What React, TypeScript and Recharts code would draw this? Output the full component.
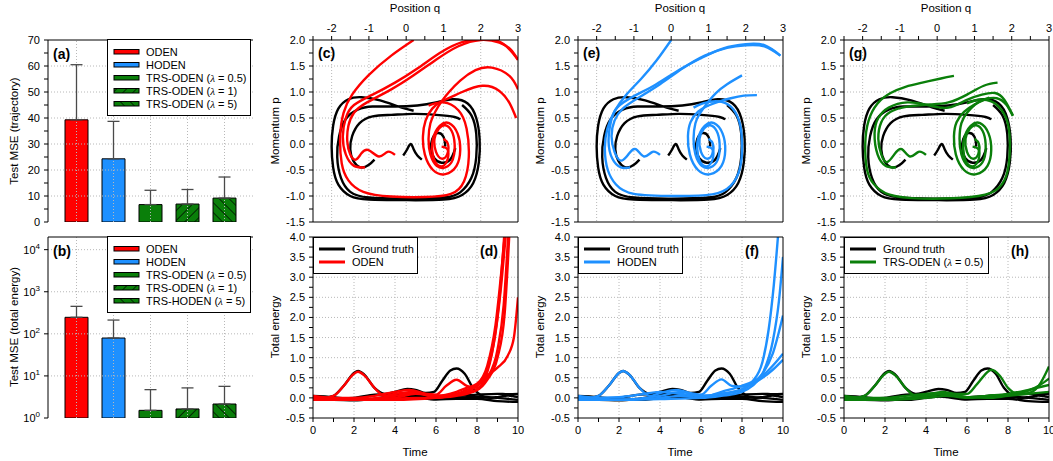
import React from "react";
import {
  Bar,
  BarChart,
  Cell,
  ErrorBar,
  Line,
  LineChart,
  ReferenceLine,
  XAxis,
  YAxis,
} from "recharts";

const FONT = "'Liberation Sans', Arial, sans-serif";
const RED = "#ff0000";
const BLUE = "#1e90ff";
const GREEN = "#0a7f0a";
const GT = "#000000";
const GRID = "#b8b8b8";

type Pt = [number, number];

// ---- bar panels (a) / (b)
const methodsA = ["ODEN", "HODEN", "TRS-ODEN (λ = 0.5)", "TRS-ODEN (λ = 1)", "TRS-ODEN (λ = 5)"];
const methodsB = ["ODEN", "HODEN", "TRS-ODEN (λ = 0.5)", "TRS-ODEN (λ = 1)", "TRS-HODEN (λ = 5)"];
const trajMSE = [39.3, 24.3, 6.7, 6.9, 9.2];
const trajErr = [21.2, 14.4, 5.5, 5.6, 8.1];
const energyMSE = [247, 79.5, 1.52, 1.64, 2.15];
const energyErr = [203, 133, 3.2, 3.55, 3.5];
const barFills = [RED, BLUE, GREEN, "url(#hatchFwd)", "url(#hatchBack)"];

const trajTicks = [0, 5, 10, 15, 20, 25, 30, 35, 40, 45, 50, 55, 60, 65, 70];
const trajMajor = [0, 10, 20, 30, 40, 50, 60, 70];
const logTicks = [1, 10, 100, 1000, 10000];

// ---- axes of phase / energy panels
const qTicks = [-2.5, -2, -1.5, -1, -0.5, 0, 0.5, 1, 1.5, 2, 2.5, 3];
const qMajor = [-2, -1, 0, 1, 2, 3];
const pTicks = [-1.5, -1.25, -1, -0.75, -0.5, -0.25, 0, 0.25, 0.5, 0.75, 1, 1.25, 1.5, 1.75, 2];
const pMajor = [-1.5, -1, -0.5, 0, 0.5, 1, 1.5, 2];
const tTicks = [0, 1, 2, 3, 4, 5, 6, 7, 8, 9, 10];
const tMajor = [0, 2, 4, 6, 8, 10];
const eTicks = [-0.5, -0.25, 0, 0.25, 0.5, 0.75, 1, 1.25, 1.5, 1.75, 2, 2.25, 2.5, 2.75, 3, 3.25, 3.5, 3.75, 4];
const eMajor = [-0.5, 0, 0.5, 1, 1.5, 2, 2.5, 3, 3.5, 4];

// ---- ground truth phase trajectories (q, p)
const gtPhase1: Pt[] = [[0.2,0.64],[-0.2,0.72],[-0.7,0.84],[-1.2,0.9],[-1.55,0.86],[-1.82,0.68],[-1.96,0.35],[-2.0,-0.05],[-1.96,-0.45],[-1.82,-0.78],[-1.5,-1.0],[-1.0,-1.07],[0,-1.08],[1.0,-1.07],[1.5,-0.98],[1.8,-0.75],[1.95,-0.35],[1.97,0.1],[1.88,0.5],[1.65,0.78],[1.25,0.86],[0.8,0.8],[0.3,0.74],[-0.3,0.72],[-0.9,0.72],[-1.3,0.66],[-1.62,0.48],[-1.8,0.15],[-1.85,-0.25],[-1.75,-0.65],[-1.5,-0.92],[-1.0,-1.03],[0,-1.05],[1.0,-1.03],[1.45,-0.93],[1.75,-0.65],[1.88,-0.25],[1.88,0.2],[1.75,0.55],[1.5,0.75]];
const gtPhase2: Pt[] = [[1.45,0.47],[1.3,0.52],[0.8,0.56],[0.2,0.58],[-0.4,0.56],[-0.9,0.53],[-1.25,0.4],[-1.45,0.15],[-1.5,-0.1],[-1.42,-0.32],[-1.22,-0.45],[-1.0,-0.4],[-0.85,-0.3]];
const gtPhase3: Pt[] = [[1.05,-0.05],[1.0,0.14],[0.84,0.21],[0.7,0.1],[0.67,-0.1],[0.76,-0.28],[0.95,-0.36],[1.18,-0.3],[1.32,-0.08]];
const gtPhase4: Pt[] = [[-0.08,-0.22],[0.02,-0.11],[0.12,0.0],[0.2,-0.1],[0.3,-0.22],[0.42,-0.3]];

// ---- ODEN phase (c)
const odenPhase1: Pt[] = [[0.2,2.0],[-0.4,1.7],[-1.0,1.33],[-1.45,0.95],[-1.68,0.6],[-1.77,0.15],[-1.73,-0.37],[-1.55,-0.7],[-1.15,-0.92],[-0.4,-1.01],[0.5,-1.02],[1.2,-0.96],[1.55,-0.72],[1.68,-0.25],[1.62,0.3],[1.4,0.65],[1.0,0.8],[0.6,0.74]];
const odenPhase2: Pt[] = [[-0.3,-0.21],[-0.5,-0.15],[-0.73,-0.24],[-1.0,-0.12],[-1.2,-0.18],[-1.35,-0.3],[-1.5,-0.2],[-1.58,0.05],[-1.55,0.35],[-1.4,0.6],[-1.05,0.8],[-0.4,1.05],[0.2,1.32],[0.8,1.62],[1.4,1.88],[2.0,2.0],[2.5,1.95],[2.8,1.82],[3.0,1.62]];
const odenPhase3: Pt[] = [[-1.1,-0.45],[-1.4,-0.42],[-1.62,-0.2],[-1.7,0.15],[-1.62,0.5],[-1.4,0.75],[-0.9,0.95],[-0.3,1.18],[0.3,1.45],[0.9,1.75],[1.5,1.96],[2.1,2.02],[2.6,1.93],[3.0,1.62]];
const odenPhase4: Pt[] = [[1.0,0.1],[1.12,0.0],[1.1,-0.2],[0.95,-0.28],[0.8,-0.15],[0.76,0.1],[0.88,0.3],[1.05,0.36],[1.22,0.25],[1.3,0.0],[1.25,-0.3],[1.05,-0.45],[0.82,-0.42],[0.65,-0.2],[0.6,0.1],[0.65,0.4],[0.78,0.62],[0.95,0.82],[1.15,1.0],[1.45,1.22],[1.86,1.42],[2.3,1.47],[2.77,1.31],[3.0,1.05]];
const odenPhase5: Pt[] = [[0.95,-0.05],[1.12,-0.12],[1.08,-0.35],[0.88,-0.42],[0.72,-0.22],[0.72,0.1],[0.9,0.35],[1.15,0.4],[1.38,0.2],[1.45,-0.12],[1.35,-0.42],[1.05,-0.58],[0.72,-0.5],[0.5,-0.2],[0.45,0.15],[0.52,0.45],[0.7,0.68],[0.95,0.82],[1.2,0.9],[1.5,1.0],[2.05,1.12],[2.5,1.02],[2.77,0.79],[2.95,0.5]];

// ---- HODEN phase (e)
const hodenPhase1: Pt[] = [[0.0,2.0],[-0.4,1.6],[-0.81,1.25],[-1.2,0.95],[-1.5,0.65],[-1.71,0.3],[-1.78,-0.1],[-1.7,-0.5],[-1.48,-0.78],[-1.0,-0.96],[0.1,-1.0],[1.1,-0.97],[1.6,-0.8],[1.85,-0.45],[1.9,0.05],[1.82,0.45],[1.6,0.72],[1.25,0.82],[0.85,0.78],[0.6,0.7]];
const hodenPhase2: Pt[] = [[-0.3,-0.21],[-0.5,-0.15],[-0.73,-0.24],[-0.95,-0.1],[-1.15,-0.2],[-1.35,-0.32],[-1.52,-0.15],[-1.6,0.15],[-1.52,0.45],[-1.3,0.68],[-0.9,0.88],[-0.3,1.15],[0.3,1.45],[0.9,1.7],[1.5,1.85],[2.0,1.9],[2.5,1.88],[2.93,1.7]];
const hodenPhase3: Pt[] = [[-1.1,-0.45],[-1.35,-0.45],[-1.58,-0.28],[-1.68,0.05],[-1.62,0.42],[-1.45,0.7],[-1.0,0.92],[-0.4,1.15],[0.2,1.42],[0.8,1.65],[1.4,1.84],[2.0,1.92],[2.5,1.9],[2.93,1.7]];
const hodenPhase4: Pt[] = [[1.0,0.1],[1.12,0.0],[1.1,-0.2],[0.95,-0.28],[0.8,-0.15],[0.76,0.1],[0.88,0.3],[1.05,0.36],[1.22,0.25],[1.3,0.0],[1.25,-0.3],[1.05,-0.45],[0.82,-0.42],[0.65,-0.2],[0.6,0.1],[0.65,0.4],[0.78,0.6],[0.98,0.8],[1.2,0.98],[1.5,1.15],[1.9,1.32]];
const hodenPhase5: Pt[] = [[0.95,-0.05],[1.12,-0.12],[1.08,-0.35],[0.88,-0.42],[0.72,-0.22],[0.72,0.1],[0.9,0.35],[1.15,0.4],[1.38,0.2],[1.45,-0.12],[1.35,-0.42],[1.05,-0.58],[0.72,-0.5],[0.5,-0.2],[0.45,0.15],[0.52,0.42],[0.72,0.62],[1.0,0.74],[1.3,0.82],[1.6,0.88],[1.95,0.93],[2.3,0.94]];

// ---- TRS-ODEN phase (g)
const trsPhase1: Pt[] = [[0.45,1.31],[0.1,1.26],[-0.4,1.18],[-0.85,1.1],[-1.25,0.98],[-1.6,0.78],[-1.84,0.45],[-1.93,0.0],[-1.88,-0.5],[-1.7,-0.77],[-1.3,-0.97],[-0.4,-1.05],[0.9,-1.02],[1.55,-0.9],[1.85,-0.62],[1.95,-0.1],[1.9,0.38],[1.72,0.66],[1.45,0.82],[1.1,0.85],[0.8,0.78]];
const trsPhase2: Pt[] = [[-0.3,-0.21],[-0.5,-0.15],[-0.73,-0.24],[-0.95,-0.1],[-1.15,-0.2],[-1.35,-0.35],[-1.5,-0.2],[-1.58,0.1],[-1.5,0.42],[-1.25,0.62],[-0.8,0.72],[-0.2,0.76],[0.3,0.8],[0.8,0.95],[1.25,1.12],[1.62,1.18]];
const trsPhase3: Pt[] = [[-1.1,-0.45],[-1.38,-0.42],[-1.6,-0.2],[-1.68,0.2],[-1.58,0.5],[-1.3,0.7],[-0.8,0.8],[-0.2,0.74],[0.3,0.7],[0.8,0.85],[1.2,0.95],[1.55,0.98],[1.8,0.85],[2.03,0.55]];
const trsPhase4: Pt[] = [[1.0,0.1],[1.12,0.0],[1.1,-0.2],[0.95,-0.28],[0.8,-0.15],[0.76,0.1],[0.88,0.3],[1.05,0.36],[1.22,0.25],[1.3,0.0],[1.25,-0.3],[1.05,-0.45],[0.82,-0.42],[0.65,-0.2],[0.6,0.1],[0.65,0.4],[0.8,0.6],[1.0,0.75],[1.2,0.84],[1.4,0.89]];
const trsPhase5: Pt[] = [[0.95,-0.05],[1.12,-0.12],[1.08,-0.35],[0.88,-0.42],[0.72,-0.22],[0.72,0.1],[0.9,0.35],[1.15,0.4],[1.38,0.2],[1.45,-0.12],[1.35,-0.42],[1.05,-0.58],[0.72,-0.5],[0.5,-0.2],[0.45,0.15],[0.52,0.42],[0.72,0.62],[1.0,0.76],[1.3,0.86],[1.6,0.88],[1.85,0.76],[2.03,0.54]];

// ---- total energy (time, E)
const gtEnergy1: Pt[] = [[0,0.0],[0.5,0.0],[1,0.05],[1.5,0.3],[2,0.62],[2.2,0.67],[2.5,0.58],[3,0.25],[3.5,0.1],[4,0.15],[4.6,0.22],[5,0.2],[5.5,0.12],[5.9,0.15],[6.3,0.42],[6.7,0.68],[7.0,0.73],[7.4,0.6],[7.8,0.25],[8.2,0.06],[8.6,0.0],[9,0.02],[9.5,0.06],[10,0.02]];
const gtEnergy2: Pt[] = [[0,0.05],[1,0.02],[2,-0.04],[3,-0.05],[4,0.0],[5,0.05],[6,0.02],[7,0.05],[8,0.08],[9,0.1],[9.5,0.09],[10,0.1]];
const gtEnergy3: Pt[] = [[0,-0.05],[1,-0.05],[2,-0.06],[3,-0.02],[4,0.05],[5,0.02],[6,-0.04],[7,-0.02],[8,-0.02],[9,-0.08],[10,-0.1]];
const gtEnergy4: Pt[] = [[0,0.02],[1,-0.02],[2,0.0],[3,0.08],[4,0.1],[5,0.05],[6,0.0],[7,0.0],[8,0.03],[9,0.0],[10,-0.05]];

const odenEnergy1: Pt[] = [[0,0.0],[0.5,0.0],[1,0.05],[1.5,0.3],[2,0.6],[2.2,0.65],[2.5,0.56],[3,0.25],[3.5,0.05],[4,0.1],[4.8,0.15],[5.5,0.1],[6,0.08],[6.5,0.3],[7,0.45],[7.5,0.3],[8,0.25],[8.4,0.5],[8.8,1.3],[9.1,2.5],[9.35,4.2]];
const odenEnergy2: Pt[] = [[0,0.05],[2,-0.04],[4,0.05],[5,0.12],[6,0.02],[7,0.1],[7.5,0.2],[8,0.3],[8.5,0.7],[8.9,1.6],[9.2,2.9],[9.45,4.3]];
const odenEnergy3: Pt[] = [[0,-0.05],[2,-0.05],[4,0.0],[5,0.1],[6,0.05],[7,0.15],[7.5,0.25],[8,0.35],[8.5,0.8],[8.9,1.8],[9.2,3.2],[9.4,4.3]];
const odenEnergy4: Pt[] = [[0,0.0],[2,0.0],[3,0.05],[4,0.15],[4.7,0.2],[5.5,0.1],[6.5,0.05],[7.5,0.15],[8,0.3],[8.5,0.55],[9,0.75],[9.5,1.05],[9.8,1.5],[10,2.5]];
const odenEnergy5: Pt[] = [[0,-0.02],[2,-0.05],[4,-0.05],[6,0.0],[7,0.05],[8,0.2],[8.5,0.5],[9,1.2],[9.3,2.3],[9.55,4.3]];
const odenEnergy6: Pt[] = [[0,0.0],[3,-0.04],[5,0.0],[6,0.0],[7,0.1],[8,0.2],[8.5,0.45],[9,1.0],[9.35,2.1],[9.6,4.3]];

const hodenEnergy1: Pt[] = [[0,0.0],[0.5,0.0],[1,0.05],[1.5,0.3],[2,0.62],[2.2,0.67],[2.5,0.58],[3,0.25],[3.5,0.05],[4,0.12],[4.8,0.2],[5.5,0.12],[6,0.08],[6.5,0.3],[7,0.46],[7.5,0.3],[8,0.28],[8.5,0.35],[9,0.5],[9.5,0.7],[10,0.95]];
const hodenEnergy2: Pt[] = [[0,0.05],[2,-0.04],[4,0.05],[5,0.15],[6,0.05],[7,0.1],[8,0.2],[8.5,0.4],[9,0.9],[9.3,1.7],[9.55,2.8],[9.8,4.3]];
const hodenEnergy3: Pt[] = [[0,-0.05],[2,-0.05],[4,0.0],[5,0.05],[6,0.0],[7,0.05],[8,0.15],[8.5,0.3],[9,0.6],[9.5,1.4],[9.8,2.4],[10,3.5]];
const hodenEnergy4: Pt[] = [[0,0.0],[2,0.02],[3,0.08],[4,0.15],[5,0.1],[6,0.05],[7,0.1],[8,0.22],[8.5,0.35],[9,0.6],[9.5,1.1],[10,2.05]];
const hodenEnergy5: Pt[] = [[0,-0.02],[2,-0.05],[4,-0.03],[6,0.0],[7,0.15],[8,0.3],[8.5,0.4],[9,0.55],[9.5,0.8],[10,1.1]];

const trsEnergy1: Pt[] = [[0,0.0],[0.5,0.0],[1,0.05],[1.5,0.3],[2,0.6],[2.2,0.65],[2.5,0.56],[3,0.25],[3.5,0.05],[4,0.08],[4.8,0.15],[5.5,0.1],[6,0.1],[6.5,0.35],[7.2,0.7],[7.6,0.55],[8,0.25],[8.5,0.1],[9,0.12],[9.5,0.3],[10,0.78]];
const trsEnergy2: Pt[] = [[0,0.05],[2,-0.04],[4,0.05],[5,0.1],[6,0.02],[7,0.05],[8,0.08],[9,0.18],[9.5,0.3],[10,0.48]];
const trsEnergy3: Pt[] = [[0,-0.05],[2,-0.05],[4,0.0],[5,0.05],[6,0.0],[7,0.05],[8,0.1],[9,0.2],[10,0.32]];
const trsEnergy4: Pt[] = [[0,0.0],[2,0.0],[3,0.05],[4,0.1],[4.8,0.12],[6,0.02],[7,0.0],[8,0.05],[9,0.1],[10,0.15]];

const gtPhase = [gtPhase1, gtPhase2, gtPhase3, gtPhase4];
const gtEnergy = [gtEnergy1, gtEnergy2, gtEnergy3, gtEnergy4];

const toRows = (pts: Pt[]) => pts.map(([x, y]) => ({ x, y }));
const fmt1 = (v: number) => v.toFixed(1);
const fmt0 = (v: number) => String(v);

const txt = { fontSize: 11, fontFamily: FONT, fill: "#000" };

function makeTick(major: number[], fmt: (v: number) => string, side: "left" | "top" | "bottom") {
  return (props: any) => {
    const { x, y, payload } = props;
    const v = payload.value;
    if (!major.some((m) => Math.abs(m - v) < 1e-9)) return <g />;
    if (side === "left")
      return <text x={x} y={y} dy="0.36em" textAnchor="end" {...txt}>{fmt(v)}</text>;
    if (side === "top")
      return <text x={x} y={y} dy={-1} textAnchor="middle" {...txt}>{fmt(v)}</text>;
    return <text x={x} y={y} dy="0.8em" textAnchor="middle" {...txt}>{fmt(v)}</text>;
  };
}

const logTick = (props: any) => {
  const { x, y, payload } = props;
  const exp = Math.round(Math.log10(payload.value));
  return (
    <text x={x} y={y} dy="0.4em" textAnchor="end" {...txt}>
      <tspan>10</tspan>
      <tspan dy={-5} fontSize={8}>{exp}</tspan>
    </text>
  );
};

function withLambda(s: string) {
  const parts = s.split("λ");
  if (parts.length < 2) return s;
  return (
    <>
      {parts[0]}
      <i style={{ fontFamily: "'Liberation Serif', serif" }}>λ</i>
      {parts[1]}
    </>
  );
}

function Title({ x, y, text, rotate }: { x: number; y: number; text: string; rotate?: boolean }) {
  return (
    <div
      style={{
        position: "absolute",
        left: x,
        top: y,
        transform: `translate(-50%, -50%)${rotate ? " rotate(-90deg)" : ""}`,
        whiteSpace: "nowrap",
        fontFamily: FONT,
        fontSize: 11.5,
        color: "#000",
      }}
    >
      {text}
    </div>
  );
}

function Tag({ left, top, text }: { left: number; top: number; text: string }) {
  return (
    <div
      style={{
        position: "absolute",
        left,
        top,
        fontFamily: FONT,
        fontWeight: "bold",
        fontSize: 14,
        lineHeight: "14px",
        color: "#000",
      }}
    >
      {text}
    </div>
  );
}

const axisStroke = { stroke: "#000" };

function BarPanel({
  top,
  tag,
  names,
  values,
  errors,
  log,
}: {
  top: number;
  tag: string;
  names: string[];
  values: number[];
  errors: number[];
  log: boolean;
}) {
  const rows = names.map((n, i) => ({ name: n, v: values[i], err: [0, errors[i]] }));
  const mTop = log ? 8 : 40;
  const height = log ? 232 : 230;
  const mBottom = log ? 43 : 8;
  const yMax = log ? 20000 : 70;
  const yMin = log ? 1 : 0;
  const yGrid = log ? [10, 100, 1000, 10000] : [10, 20, 30, 40, 50, 60];
  return (
    <div style={{ position: "absolute", left: 0, top: top - mTop }}>
      <BarChart width={260} height={height} data={rows} margin={{ top: mTop, right: 7, bottom: mBottom, left: 0 }}>
        <XAxis
          dataKey="name"
          type="category"
          height={0}
          tick={false}
          tickLine={false}
          axisLine={axisStroke}
          padding={{ left: 10, right: 10 }}
        />
        {log ? (
          <YAxis
            type="number"
            scale="log"
            domain={[yMin, yMax]}
            ticks={logTicks}
            interval={0}
            allowDataOverflow
            width={48}
            tickSize={4}
            tickMargin={4}
            tickLine={axisStroke}
            axisLine={axisStroke}
            tick={logTick}
          />
        ) : (
          <YAxis
            type="number"
            domain={[yMin, yMax]}
            ticks={trajTicks}
            interval={0}
            allowDataOverflow
            width={48}
            tickSize={4}
            tickMargin={4}
            tickLine={axisStroke}
            axisLine={axisStroke}
            tick={makeTick(trajMajor, fmt0, "left")}
          />
        )}
        <YAxis
          yAxisId="r"
          orientation="right"
          width={0}
          domain={[0, 1]}
          tick={false}
          tickLine={false}
          axisLine={axisStroke}
        />
        {names.map((n) => (
          <ReferenceLine key={"gx" + n} x={n} stroke={GRID} strokeDasharray="1 2" />
        ))}
        {yGrid.map((v) => (
          <ReferenceLine key={"gy" + v} y={v} stroke={GRID} strokeDasharray="1 2" />
        ))}
        <ReferenceLine y={yMax} stroke="#000" />
        <Bar dataKey="v" barSize={23} stroke="#000" strokeWidth={1} isAnimationActive={false}>
          {rows.map((r, i) => (
            <Cell key={r.name} fill={barFills[i]} />
          ))}
          <ErrorBar dataKey="err" direction="y" width={6} stroke="#4a4a4a" strokeWidth={1.3} />
        </Bar>
      </BarChart>
      <Tag left={53} top={mTop + 7} text={tag} />
      <div
        style={{
          position: "absolute",
          left: 107,
          top: mTop - 1,
          width: 144,
          height: 77,
          border: "1px solid #000",
          background: "#fff",
          fontFamily: FONT,
          fontSize: 11,
          paddingTop: 6,
          boxSizing: "border-box",
        }}
      >
        {names.map((n, i) => (
          <div key={n} style={{ display: "flex", alignItems: "center", height: 12.8 }}>
            <svg width={38} height={8} style={{ flex: "none" }}>
              <rect x={6} y={1.5} width={25} height={4.5} fill={barFills[i]} stroke="#000" strokeWidth={1} />
            </svg>
            <span style={{ whiteSpace: "nowrap" }}>{withLambda(n)}</span>
          </div>
        ))}
      </div>
    </div>
  );
}

function PhasePanel({ plotLeft, tag, color, curves }: { plotLeft: number; tag: string; color: string; curves: Pt[][] }) {
  return (
    <div style={{ position: "absolute", left: plotLeft - 53, top: 0 }}>
      <LineChart width={270} height={230} margin={{ top: 0, right: 12, bottom: 8, left: 0 }}>
        <XAxis
          type="number"
          dataKey="x"
          orientation="top"
          domain={[-2.5, 3]}
          ticks={qTicks}
          interval={0}
          allowDataOverflow
          height={40}
          tickSize={4}
          tickMargin={3}
          tickLine={axisStroke}
          axisLine={axisStroke}
          tick={makeTick(qMajor, fmt0, "top")}
        />
        <YAxis
          type="number"
          domain={[-1.5, 2]}
          ticks={pTicks}
          interval={0}
          allowDataOverflow
          width={53}
          tickSize={4}
          tickMargin={4}
          tickLine={axisStroke}
          axisLine={axisStroke}
          tick={makeTick(pMajor, fmt1, "left")}
        />
        {[-2, -1, 0, 1, 2].map((v) => (
          <ReferenceLine key={"gx" + v} x={v} stroke={GRID} strokeDasharray="1 2" />
        ))}
        {[-1, -0.5, 0, 0.5, 1, 1.5].map((v) => (
          <ReferenceLine key={"gy" + v} y={v} stroke={GRID} strokeDasharray="1 2" />
        ))}
        {gtPhase.map((pts, i) => (
          <Line
            key={"gt" + i}
            data={toRows(pts)}
            dataKey="y"
            type="natural"
            stroke={GT}
            strokeWidth={2.4}
            dot={false}
            activeDot={false}
            isAnimationActive={false}
          />
        ))}
        {curves.map((pts, i) => (
          <Line
            key={"m" + i}
            data={toRows(pts)}
            dataKey="y"
            type="natural"
            stroke={color}
            strokeWidth={2.4}
            dot={false}
            activeDot={false}
            isAnimationActive={false}
          />
        ))}
        <ReferenceLine x={3} stroke="#000" />
        <ReferenceLine y={-1.5} stroke="#000" />
      </LineChart>
      <Tag left={58} top={46} text={tag} />
    </div>
  );
}

function EnergyPanel({
  plotLeft,
  tag,
  color,
  name,
  legendWidth,
  curves,
}: {
  plotLeft: number;
  tag: string;
  color: string;
  name: string;
  legendWidth: number;
  curves: Pt[][];
}) {
  return (
    <div style={{ position: "absolute", left: plotLeft - 53, top: 229 }}>
      <LineChart width={270} height={232} margin={{ top: 8, right: 12, bottom: 0, left: 0 }}>
        <XAxis
          type="number"
          dataKey="x"
          domain={[0, 10]}
          ticks={tTicks}
          interval={0}
          allowDataOverflow
          height={43}
          tickSize={4}
          tickMargin={3}
          tickLine={axisStroke}
          axisLine={axisStroke}
          tick={makeTick(tMajor, fmt0, "bottom")}
        />
        <YAxis
          type="number"
          domain={[-0.5, 4]}
          ticks={eTicks}
          interval={0}
          allowDataOverflow
          width={53}
          tickSize={4}
          tickMargin={4}
          tickLine={axisStroke}
          axisLine={axisStroke}
          tick={makeTick(eMajor, fmt1, "left")}
        />
        {[2, 4, 6, 8].map((v) => (
          <ReferenceLine key={"gx" + v} x={v} stroke={GRID} strokeDasharray="1 2" />
        ))}
        {[0, 0.5, 1, 1.5, 2, 2.5, 3, 3.5].map((v) => (
          <ReferenceLine key={"gy" + v} y={v} stroke={GRID} strokeDasharray="1 2" />
        ))}
        {gtEnergy.map((pts, i) => (
          <Line
            key={"gt" + i}
            data={toRows(pts)}
            dataKey="y"
            type="monotone"
            stroke={GT}
            strokeWidth={2.4}
            dot={false}
            activeDot={false}
            isAnimationActive={false}
          />
        ))}
        {curves.map((pts, i) => (
          <Line
            key={"m" + i}
            data={toRows(pts)}
            dataKey="y"
            type="monotone"
            stroke={color}
            strokeWidth={2.4}
            dot={false}
            activeDot={false}
            isAnimationActive={false}
          />
        ))}
        <ReferenceLine x={10} stroke="#000" />
        <ReferenceLine y={4} stroke="#000" />
      </LineChart>
      <Tag left={53 + 167} top={15} text={tag} />
      <div
        style={{
          position: "absolute",
          left: 53,
          top: 8,
          width: legendWidth,
          height: 37,
          border: "1px solid #000",
          background: "#fff",
          boxSizing: "border-box",
          fontFamily: FONT,
          fontSize: 11,
          paddingTop: 5,
        }}
      >
        {[
          { n: "Ground truth", c: GT },
          { n: name, c: color },
        ].map((e) => (
          <div key={e.n} style={{ display: "flex", alignItems: "center", height: 12.8 }}>
            <svg width={38} height={6} style={{ flex: "none" }}>
              <line x1={5} y1={3} x2={31} y2={3} stroke={e.c} strokeWidth={3} />
            </svg>
            <span style={{ whiteSpace: "nowrap" }}>{withLambda(e.n)}</span>
          </div>
        ))}
      </div>
    </div>
  );
}

const colLefts = [313, 578, 844];

export default function App() {
  return (
    <div style={{ position: "absolute", left: 0, top: 0, width: 1053, height: 461, background: "#fff", overflow: "hidden" }}>
      <svg width={0} height={0} style={{ position: "absolute" }}>
        <defs>
          <pattern id="hatchFwd" patternUnits="userSpaceOnUse" width={7} height={7} patternTransform="rotate(45)">
            <rect width={7} height={7} fill={GREEN} />
            <line x1={0} y1={0} x2={0} y2={7} stroke="#000" strokeWidth={1.4} />
          </pattern>
          <pattern id="hatchBack" patternUnits="userSpaceOnUse" width={7} height={7} patternTransform="rotate(-45)">
            <rect width={7} height={7} fill={GREEN} />
            <line x1={0} y1={0} x2={0} y2={7} stroke="#000" strokeWidth={1.4} />
          </pattern>
        </defs>
      </svg>

      <BarPanel top={40} tag="(a)" names={methodsA} values={trajMSE} errors={trajErr} log={false} />
      <BarPanel top={237} tag="(b)" names={methodsB} values={energyMSE} errors={energyErr} log />
      <Title x={14} y={131} text="Test MSE (trajectory)" rotate />
      <Title x={14} y={327} text="Test MSE (total energy)" rotate />

      <PhasePanel plotLeft={colLefts[0]} tag="(c)" color={RED} curves={[odenPhase1, odenPhase2, odenPhase3, odenPhase4, odenPhase5]} />
      <PhasePanel plotLeft={colLefts[1]} tag="(e)" color={BLUE} curves={[hodenPhase1, hodenPhase2, hodenPhase3, hodenPhase4, hodenPhase5]} />
      <PhasePanel plotLeft={colLefts[2]} tag="(g)" color={GREEN} curves={[trsPhase1, trsPhase2, trsPhase3, trsPhase4, trsPhase5]} />

      <EnergyPanel plotLeft={colLefts[0]} tag="(d)" color={RED} name="ODEN" legendWidth={105}
        curves={[odenEnergy1, odenEnergy2, odenEnergy3, odenEnergy4, odenEnergy5, odenEnergy6]} />
      <EnergyPanel plotLeft={colLefts[1]} tag="(f)" color={BLUE} name="HODEN" legendWidth={105}
        curves={[hodenEnergy1, hodenEnergy2, hodenEnergy3, hodenEnergy4, hodenEnergy5]} />
      <EnergyPanel plotLeft={colLefts[2]} tag="(h)" color={GREEN} name="TRS-ODEN (λ = 0.5)" legendWidth={145}
        curves={[trsEnergy1, trsEnergy2, trsEnergy3, trsEnergy4]} />

      {colLefts.map((l) => (
        <React.Fragment key={l}>
          <Title x={l + 102} y={8} text="Position q" />
          <Title x={l - 38} y={131} text="Momentum p" rotate />
          <Title x={l - 38} y={327} text="Total energy" rotate />
          <Title x={l + 102} y={452} text="Time" />
        </React.Fragment>
      ))}
    </div>
  );
}
